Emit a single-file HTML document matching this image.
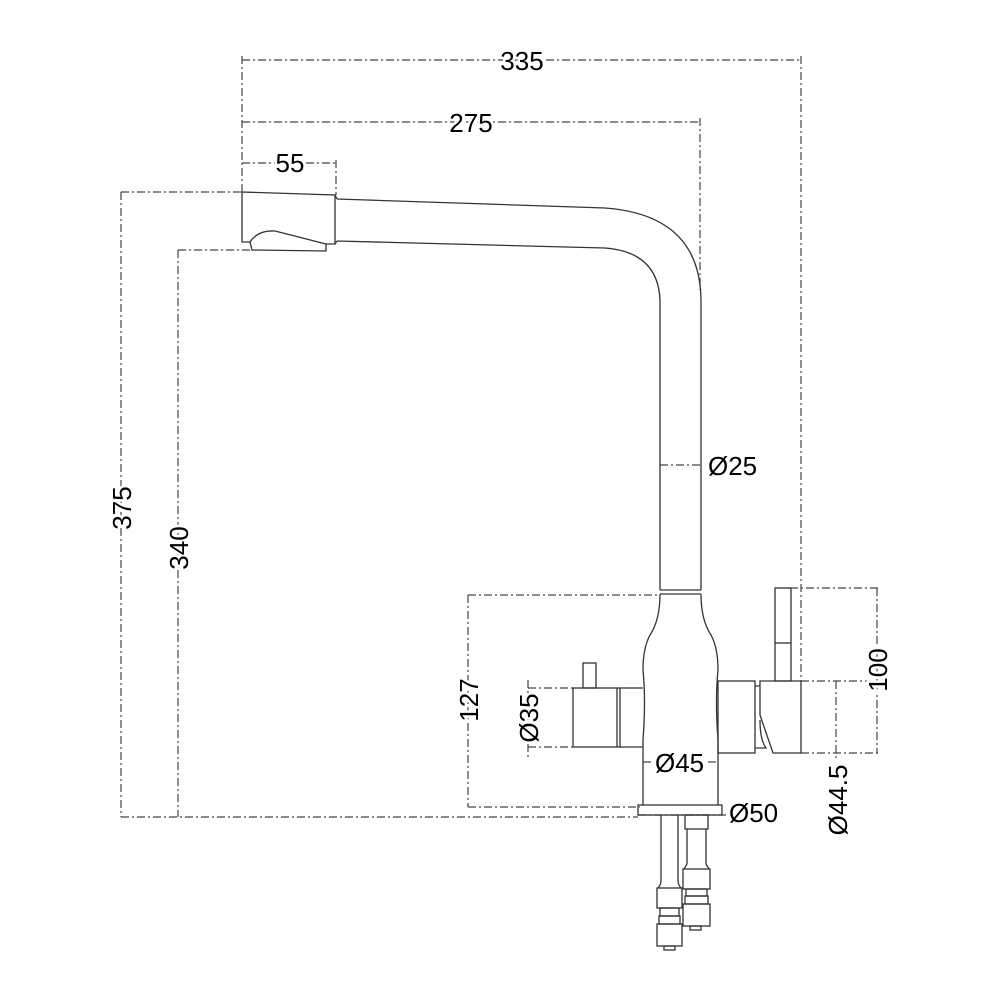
<!DOCTYPE html>
<html><head><style>body{margin:0;background:#fff}svg{display:block}text{font-family:"Liberation Sans",Arial,sans-serif;font-size:26px;fill:#000;stroke:#fff;stroke-width:5px;paint-order:stroke}</style></head>
<body>
<svg width="1000" height="1000" viewBox="0 0 1000 1000" xmlns="http://www.w3.org/2000/svg">
<g fill="none" stroke="#444" stroke-width="1.2" stroke-dasharray="8,3,2,3">
<line x1="242" y1="56" x2="242" y2="192"/><line x1="801" y1="56" x2="801" y2="681"/>
<line x1="242" y1="60" x2="801" y2="60"/>
<line x1="242" y1="122" x2="700" y2="122"/><line x1="700" y1="118" x2="700" y2="290"/>
<line x1="242" y1="163" x2="336" y2="163"/><line x1="336" y1="160" x2="336" y2="195"/>
<line x1="121" y1="192" x2="242" y2="192"/><line x1="121" y1="192" x2="121" y2="817"/><line x1="121" y1="817" x2="638" y2="817"/>
<line x1="178" y1="250" x2="250" y2="250"/><line x1="178" y1="250" x2="178" y2="817"/>
<line x1="468" y1="595" x2="660" y2="595"/><line x1="468" y1="595" x2="468" y2="807"/><line x1="468" y1="807" x2="640" y2="807"/>
<line x1="528" y1="688" x2="573" y2="688"/><line x1="528" y1="747" x2="573" y2="747"/><line x1="528" y1="680" x2="528" y2="757"/>
<line x1="790" y1="588" x2="878" y2="588"/><line x1="801" y1="681" x2="878" y2="681"/><line x1="801" y1="753" x2="878" y2="753"/>
<line x1="877" y1="588" x2="877" y2="753"/><line x1="836" y1="681" x2="836" y2="760"/>
<line x1="660" y1="465" x2="701" y2="465"/>
<line x1="643" y1="762" x2="655" y2="762"/><line x1="708" y1="762" x2="718" y2="762"/>
<line x1="638" y1="815" x2="728" y2="815"/>
</g>
<g fill="none" stroke="#333" stroke-width="1.3">
<path d="M242,192 L335,195 L335,244 L326,244 L326,251 L252,250 L250,242 L242,242 Z"/>
<path d="M250,242 Q258,230 275,231 L326,244"/>
<path d="M337,199 L605,208 Q700,215 701,300 L701,590"/>
<path d="M337,241 L605,248 Q658,252 660,300 L660,590"/>
<line x1="335" y1="195" x2="337" y2="199"/><line x1="335" y1="244" x2="337" y2="241"/>
<line x1="660" y1="590" x2="701" y2="590"/><line x1="660" y1="594" x2="701" y2="594"/>
<path d="M660,594 Q660,620 650,635 Q643,648 643,670 Q646,700 643,740 L643,805"/>
<path d="M701,594 Q701,620 711,635 Q718,648 718,670 Q715,700 718,740 L718,805"/>
<rect x="638" y="805" width="84" height="10"/>
<rect x="573" y="688" width="47" height="59"/>
<line x1="617" y1="688" x2="617" y2="747"/>
<path d="M620,688 L643,688 M620,747 L643,747"/>
<rect x="583" y="663" width="13" height="25"/>
<rect x="718" y="681" width="37" height="72"/>
<path d="M755,686 L760,686 M755,748 L766,748 Q760,740 760,720"/>
<path d="M760,681 L801,681 L801,753 L773,753 L760,715 Z"/>
<rect x="775" y="588" width="16" height="93"/>
<line x1="775" y1="643" x2="791" y2="643"/>
<path d="M661,815 L661,880 Q661,885 658,888 M678,815 L678,880 Q678,885 681,888"/>
<rect x="657" y="888" width="25" height="20"/><rect x="660" y="908" width="19" height="8"/><rect x="659" y="916" width="21" height="8"/><rect x="657" y="924" width="25" height="22"/><rect x="664" y="946" width="11" height="4"/>
<rect x="685" y="815" width="23" height="14"/>
<path d="M687,829 L687,864 L684,869 M706,829 L706,864 L709,869"/>
<rect x="683" y="869" width="27" height="20"/><rect x="686" y="889" width="21" height="7"/><rect x="685" y="896" width="23" height="8"/><rect x="683" y="904" width="27" height="22"/><rect x="690" y="926" width="11" height="4"/>
</g>
<text x="522" y="70" text-anchor="middle">335</text>
<text x="471" y="132" text-anchor="middle">275</text>
<text x="290" y="172" text-anchor="middle">55</text>
<text x="708" y="475">Ø25</text>
<text x="655" y="772">Ø45</text>
<text x="729" y="822">Ø50</text>
<text transform="translate(131,508) rotate(-90)" text-anchor="middle">375</text>
<text transform="translate(188,548) rotate(-90)" text-anchor="middle">340</text>
<text transform="translate(478,700) rotate(-90)" text-anchor="middle">127</text>
<text transform="translate(538,718) rotate(-90)" text-anchor="middle">Ø35</text>
<text transform="translate(887,670) rotate(-90)" text-anchor="middle">100</text>
<text transform="translate(847,800) rotate(-90)" text-anchor="middle">Ø44.5</text>
</svg>
</body></html>
